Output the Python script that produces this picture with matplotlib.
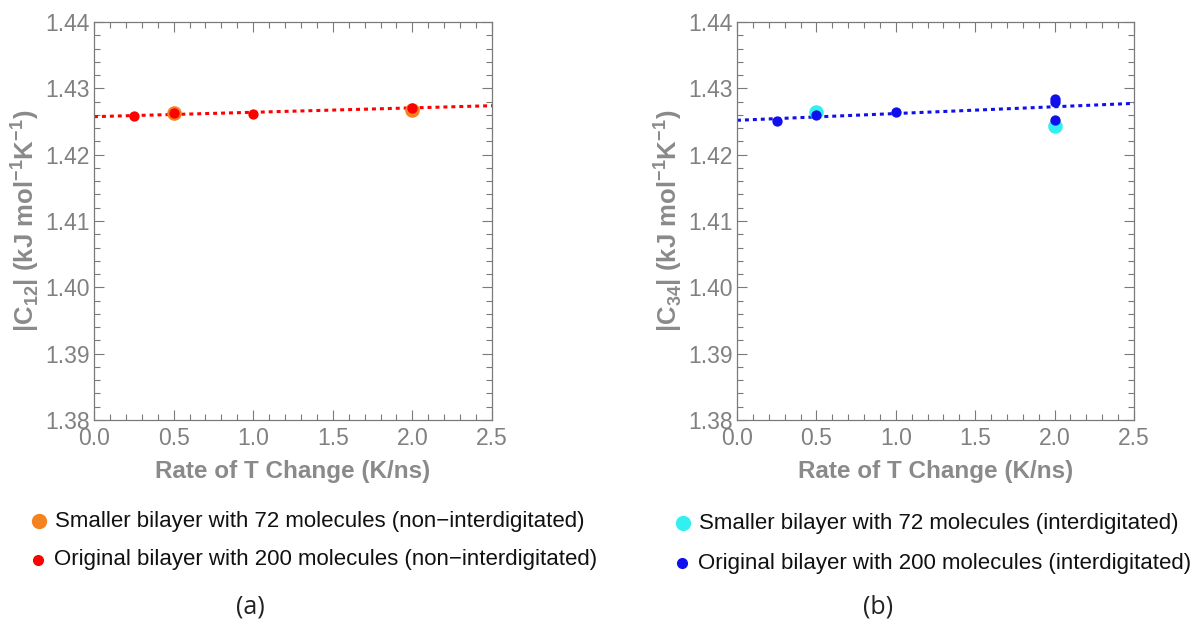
import numpy as np
import matplotlib
matplotlib.use("Agg")
import matplotlib.pyplot as plt
from matplotlib.ticker import MultipleLocator
from matplotlib.lines import Line2D

# ---- data ----
rate_small_a = [0.5, 2.0]
c12_small = [1.4263, 1.4267]
rate_orig_a = [0.25, 0.5, 1.0, 2.0]
c12_orig = [1.4258, 1.4263, 1.4262, 1.4271]

rate_small_b = [0.5, 2.0]
c34_small = [1.4265, 1.4243]
rate_orig_b = [0.25, 0.5, 1.0, 2.0, 2.0, 2.0]
c34_orig = [1.4250, 1.4260, 1.4265, 1.4284, 1.4279, 1.4252]

xlim = (0.0, 2.5)
ylim = (1.38, 1.44)

plt.rcParams['font.family'] = ['Liberation Sans', 'DejaVu Sans']
plt.rcParams['mathtext.fontset'] = 'custom'
plt.rcParams['mathtext.bf'] = 'Liberation Sans:bold'
plt.rcParams['mathtext.rm'] = 'Liberation Sans'
fig = plt.figure(figsize=(11.96, 6.26), dpi=100)

W, H = 1196, 626
def add_ax(x0, x1, y0, y1):
    return fig.add_axes([x0 / W, 1 - y1 / H, (x1 - x0) / W, (y1 - y0) / H])

ax_a = add_ax(94, 492, 22, 420)
ax_b = add_ax(737, 1134, 22, 420)

gray = '#7a7a7a'
lab_gray = '#8a8a8a'

def style(ax, ylabel):
    ax.set_xlim(*xlim)
    ax.set_ylim(*ylim)
    ax.xaxis.set_major_locator(MultipleLocator(0.5))
    ax.xaxis.set_minor_locator(MultipleLocator(0.1))
    ax.yaxis.set_major_locator(MultipleLocator(0.01))
    ax.yaxis.set_minor_locator(MultipleLocator(0.002))
    ax.xaxis.set_major_formatter(matplotlib.ticker.FormatStrFormatter('%.1f'))
    ax.yaxis.set_major_formatter(matplotlib.ticker.FormatStrFormatter('%.2f'))
    ax.tick_params(which='both', direction='in', top=True, right=True,
                   color=gray, labelcolor='#808080', labelsize=16.5, width=0.8)
    ax.tick_params(which='major', length=7)
    ax.tick_params(axis='x', which='major', pad=5)
    ax.tick_params(axis='y', which='major', pad=3)
    ax.tick_params(which='minor', length=4)
    for s in ax.spines.values():
        s.set_color(gray)
        s.set_linewidth(0.9)
    ax.set_xlabel('Rate of T Change (K/ns)', fontsize=17.5, fontweight='bold',
                  color=lab_gray, labelpad=7)
    ax.set_ylabel(ylabel, fontsize=18.5, fontweight='bold', color=lab_gray,
                  labelpad=3)

def plot_panel(ax, xs, ys, xo, yo, c_small, c_orig, line_c):
    ax.scatter(xs, ys, s=110, color=c_small, zorder=3, linewidths=0)
    ax.scatter(xo, yo, s=55, color=c_orig, zorder=4, linewidths=0)
    p = np.polyfit(xo, yo, 1)
    xx = np.linspace(xlim[0], xlim[1], 50)
    ax.plot(xx, np.polyval(p, xx), color=line_c, linestyle=(0, (1.3, 1.3)),
            linewidth=2.2, zorder=2)

style(ax_a, r'|C$_{\mathbf{12}}$| (kJ mol$^{\mathbf{-1}}$K$^{\mathbf{-1}}$)')
style(ax_b, r'|C$_{\mathbf{34}}$| (kJ mol$^{\mathbf{-1}}$K$^{\mathbf{-1}}$)')

plot_panel(ax_a, rate_small_a, c12_small, rate_orig_a, c12_orig,
           '#f5821f', '#ff0000', '#ff0000')
plot_panel(ax_b, rate_small_b, c34_small, rate_orig_b, c34_orig,
           '#33f0f0', '#1010ee', '#1010ee')

# legends
def legend_item(xp, yp, color, size, text):
    fig.add_artist(Line2D([xp / W], [1 - yp / H], marker='o', color=color,
                          markersize=size, linestyle='none',
                          transform=fig.transFigure))
    fig.text((xp + 16) / W, 1 - yp / H, text, fontsize=16, color='#111111',
             va='center', ha='left')

legend_item(39, 521, '#f5821f', 10, 'Smaller bilayer with 72 molecules (non\u2212interdigitated)')
legend_item(38, 560, '#ff0000', 7, 'Original bilayer with 200 molecules (non\u2212interdigitated)')
legend_item(683, 523, '#33f0f0', 10, 'Smaller bilayer with 72 molecules (interdigitated)')
legend_item(682, 563, '#1010ee', 7, 'Original bilayer with 200 molecules (interdigitated)')

fig.text(250 / W, 1 - 607 / H, '(a)', fontsize=18, ha='center', va='center',
         family=['Open Sans', 'DejaVu Sans'], color='#222222')
fig.text(878 / W, 1 - 607 / H, '(b)', fontsize=18, ha='center', va='center',
         family=['Open Sans', 'DejaVu Sans'], color='#222222')

fig.savefig('out.png', dpi=100)
